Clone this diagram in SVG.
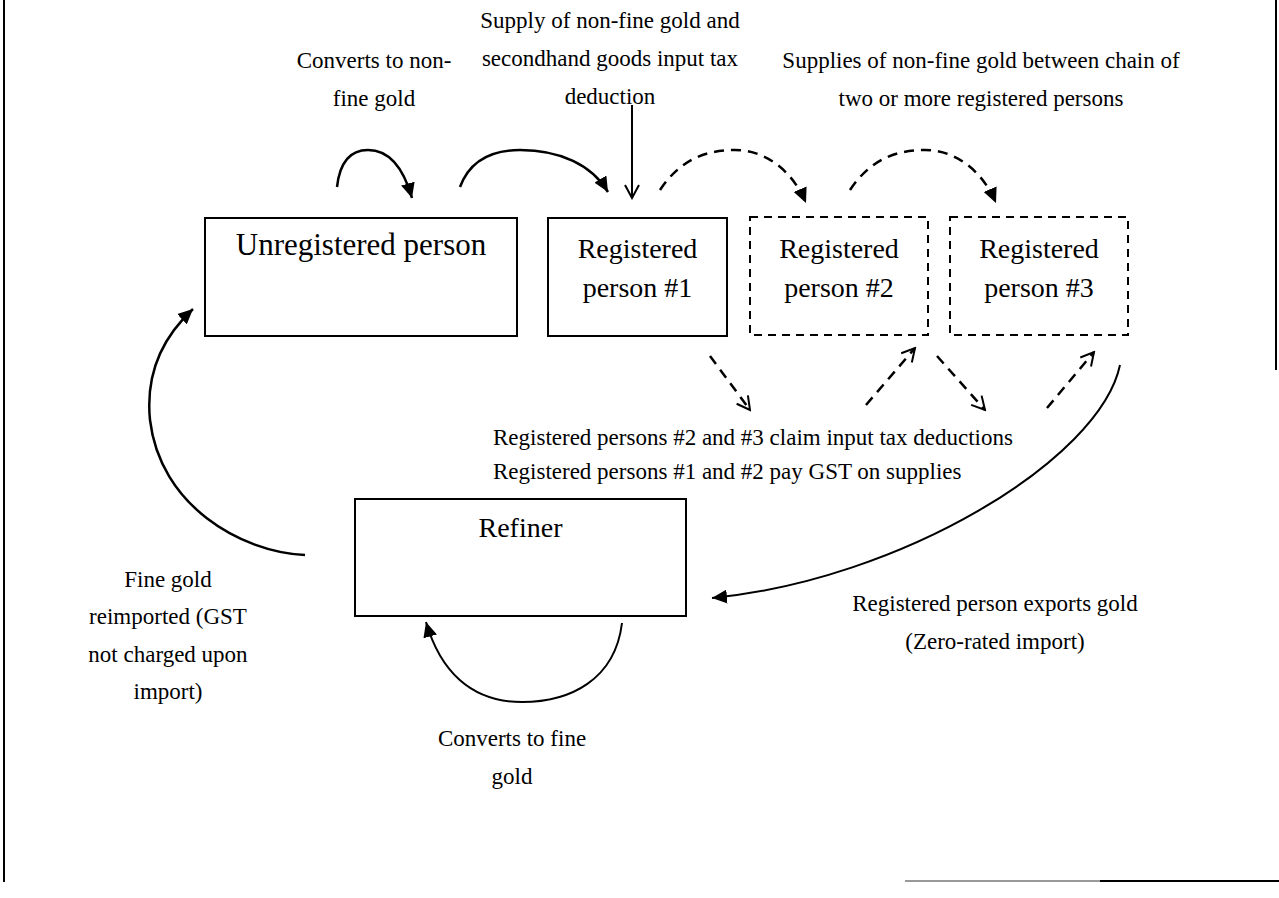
<svg xmlns="http://www.w3.org/2000/svg" width="1279" height="898" viewBox="0 0 1279 898">
<defs>
<style>
.box{fill:#fff;stroke:#000;stroke-width:2}
.dbox{fill:#fff;stroke:#000;stroke-width:2;stroke-dasharray:8 6}
.bt{font-family:"Liberation Serif",serif;font-size:28px;fill:#000;text-anchor:middle}
.lb{font-family:"Liberation Serif",serif;font-size:23px;fill:#000;text-anchor:middle}
.lbl{font-family:"Liberation Serif",serif;font-size:23px;fill:#000}
.c{fill:none;stroke:#000;stroke-width:2.5}
.cd{fill:none;stroke:#000;stroke-width:2.5;stroke-dasharray:10 7}
.ct{fill:none;stroke:#000;stroke-width:2}
.frame{stroke:#000;stroke-width:2;fill:none}
</style>
<marker id="tri" markerUnits="userSpaceOnUse" markerWidth="16" markerHeight="14" refX="15" refY="7" orient="auto">
<path d="M0,0 L15,7 L0,14 z" fill="#000"/>
</marker>
<marker id="open" markerUnits="userSpaceOnUse" markerWidth="16" markerHeight="16" refX="14" refY="8" orient="auto">
<path d="M1,1 L14,8 L1,15" fill="none" stroke="#000" stroke-width="2"/>
</marker>
</defs>
<rect width="1279" height="898" fill="#fff"/>
<g id="frame">
<line class="frame" x1="4" y1="0" x2="4" y2="882"/>
<line class="frame" x1="1276" y1="0" x2="1276" y2="370"/>
<line x1="905" y1="881" x2="1100" y2="881" stroke="#999" stroke-width="2"/>
<line class="frame" x1="1100" y1="881" x2="1279" y2="881"/>
</g>
<g id="unregistered">
<rect class="box" x="205" y="218" width="312" height="118"/>
<text class="bt" x="361" y="255" style="font-size:31px">Unregistered person</text>
</g>
<g id="registered1">
<rect class="box" x="548" y="218" width="179" height="118"/>
<text class="bt" x="637.5" y="258">Registered</text>
<text class="bt" x="637.5" y="297">person #1</text>
</g>
<g id="registered2">
<rect class="dbox" x="750" y="217" width="178" height="118"/>
<text class="bt" x="839" y="258">Registered</text>
<text class="bt" x="839" y="297">person #2</text>
</g>
<g id="registered3">
<rect class="dbox" x="950" y="217" width="178" height="118"/>
<text class="bt" x="1039" y="258">Registered</text>
<text class="bt" x="1039" y="297">person #3</text>
</g>
<g id="refiner">
<rect class="box" x="355" y="499" width="331" height="117"/>
<text class="bt" x="520.5" y="537">Refiner</text>
</g>
<g id="connectors">
<path class="c" d="M337,187 C340,160 352,150 368,150 C390,150 404,170 412,198" marker-end="url(#tri)"/>
<path class="c" d="M460,187 C470,160 492,150 520,150 C560,150 592,165 608,192" marker-end="url(#tri)"/>
<line class="ct" x1="632" y1="105" x2="632" y2="198" marker-end="url(#open)"/>
<path class="cd" d="M660,190 C680,160 705,150 735,150 C765,150 792,170 806,203" marker-end="url(#tri)"/>
<path class="cd" d="M850,190 C870,160 895,150 925,150 C955,150 982,170 996,203" marker-end="url(#tri)"/>
<line class="cd" x1="710" y1="356" x2="750" y2="410" marker-end="url(#open)"/>
<line class="cd" x1="866" y1="405" x2="915" y2="348" marker-end="url(#open)"/>
<line class="cd" x1="937" y1="356" x2="985" y2="410" marker-end="url(#open)"/>
<line class="cd" x1="1047" y1="408" x2="1094" y2="352" marker-end="url(#open)"/>
<path class="ct" d="M1120,365 C1100,460 900,580 712,598" marker-end="url(#tri)"/>
<path class="c" d="M305,555 C240,552 160,505 150,420 C145,370 165,335 193,309" marker-end="url(#tri)"/>
<path class="ct" d="M622,623 C615,680 570,702 522,702 C470,702 440,670 426,622" marker-end="url(#tri)"/>
</g>
<g id="labels">
<text class="lb" x="374" y="68">Converts to non-</text>
<text class="lb" x="374" y="106">fine gold</text>
<text class="lb" x="610" y="28">Supply of non-fine gold and</text>
<text class="lb" x="610" y="66">secondhand goods input tax</text>
<text class="lb" x="610" y="104">deduction</text>
<text class="lb" x="981" y="68">Supplies of non-fine gold between chain of</text>
<text class="lb" x="981" y="106">two or more registered persons</text>
<text class="lbl" x="493" y="445">Registered persons #2 and #3 claim input tax deductions</text>
<text class="lbl" x="493" y="479">Registered persons #1 and #2 pay GST on supplies</text>
<text class="lb" x="995" y="611">Registered person exports gold</text>
<text class="lb" x="995" y="649">(Zero-rated import)</text>
<text class="lb" x="168" y="587">Fine gold</text>
<text class="lb" x="168" y="624">reimported (GST</text>
<text class="lb" x="168" y="662">not charged upon</text>
<text class="lb" x="168" y="699">import)</text>
<text class="lb" x="512" y="746">Converts to fine</text>
<text class="lb" x="512" y="784">gold</text>
</g>
</svg>
